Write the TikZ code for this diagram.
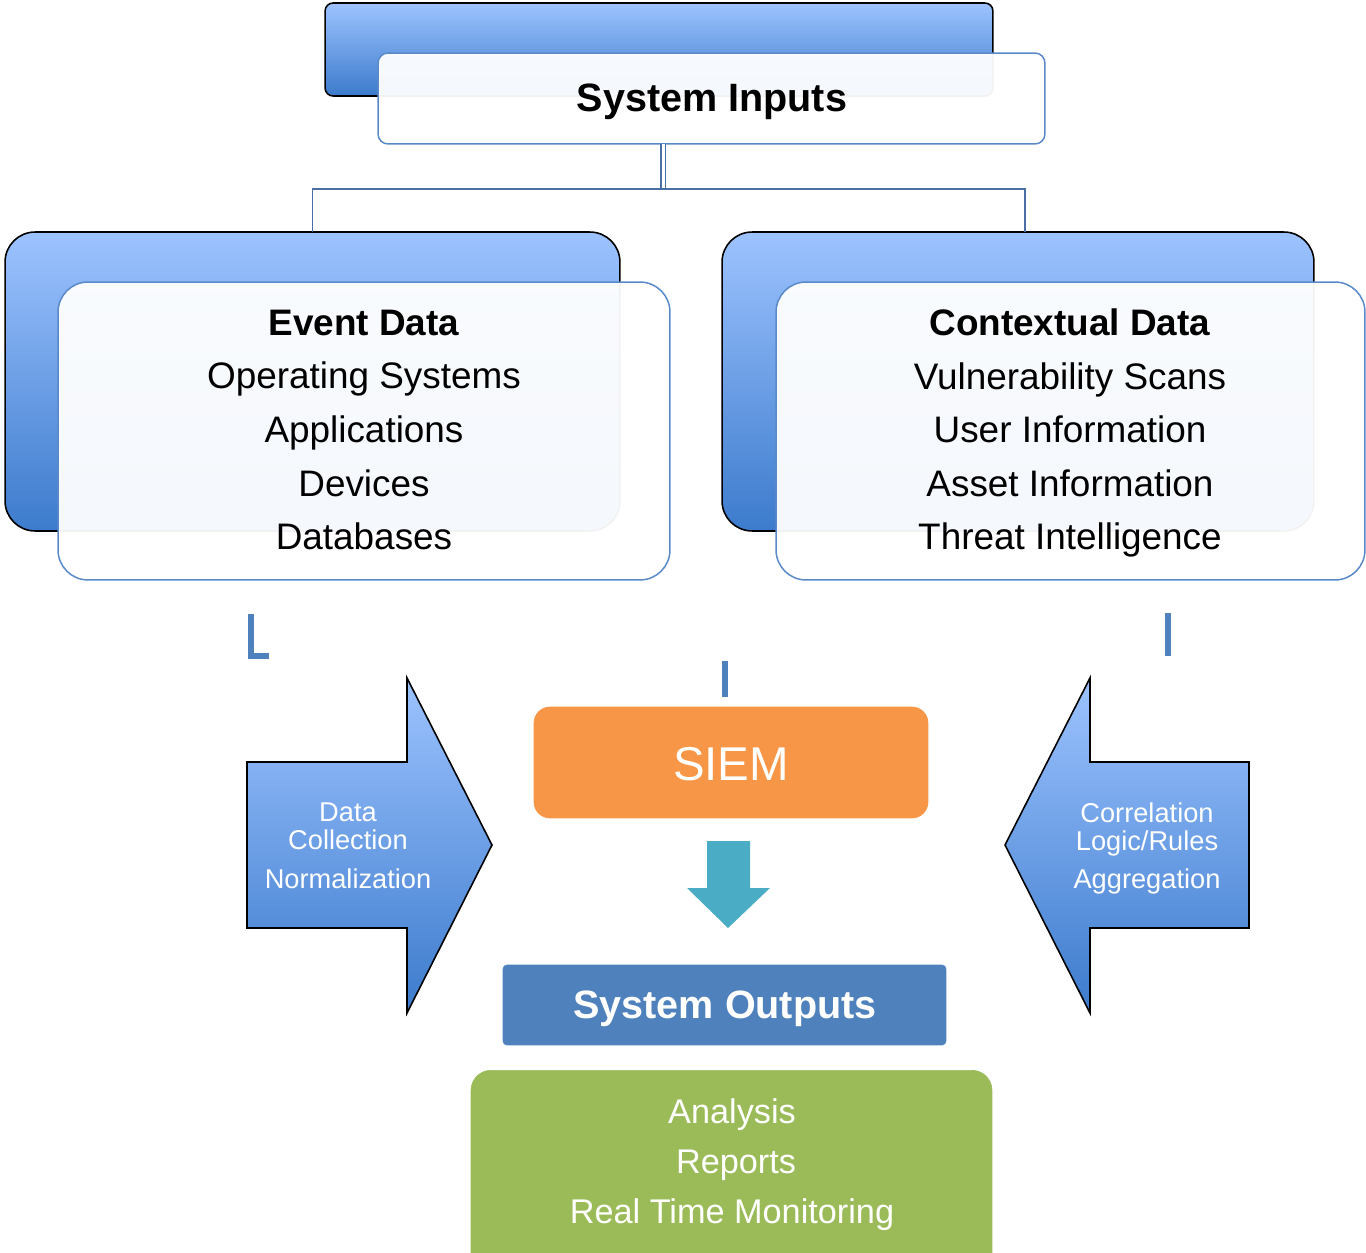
\documentclass[tikz,border=0pt]{standalone}
\usepackage{fontspec}
\setmainfont{Liberation Sans}
\definecolor{gtop}{HTML}{9DC3FF}
\definecolor{gbot}{HTML}{3C7BCC}
\definecolor{frontedge}{HTML}{5A89C8}
\definecolor{connc}{HTML}{4A6FA5}
\definecolor{fragc}{HTML}{4F81BD}
\definecolor{siemc}{HTML}{F79646}
\definecolor{tealc}{HTML}{4BACC6}
\definecolor{outc}{HTML}{4F81BD}
\definecolor{greenc}{HTML}{9BBB59}
\begin{document}
\begin{tikzpicture}[x=0.02cm, y=-0.02cm,
  backbox/.style={draw=black, line width=0.9pt, top color=gtop, bottom color=gbot, rounded corners=#1, inner sep=0pt, outer sep=0pt},
  frontbox/.style={draw=frontedge, line width=0.85pt, fill=white, fill opacity=0.95, rounded corners=#1, inner sep=0pt, outer sep=0pt},
  connline/.style={draw=connc, line width=1.1pt},
  fragln/.style={draw=fragc, line width=2.9pt},
  bigarrow/.style={draw=black, line width=0.9pt, top color=gtop, bottom color=gbot},
  bigtxt/.style={font=\fontsize{21}{30.47}\selectfont, align=center, inner sep=0pt},
  arrtxt/.style={font=\fontsize{15.5}{15.9}\selectfont, align=center, text=white, inner sep=0pt},
]
\useasboundingbox (0,0) rectangle (1366,1253);

% ---------- System Inputs ----------
\node[backbox=0.16cm, minimum width=13.36cm, minimum height=1.86cm] (sib) at (659,49.5) {};
\node[frontbox=0.2cm, minimum width=13.34cm, minimum height=1.82cm] (sif) at (711.5,98.5) {};
\node[anchor=base, inner sep=0pt, font=\fontsize{22.5}{27}\selectfont\bfseries] (sit) at (712,112) {System Inputs};

% ---------- Event Data ----------
\node[backbox=0.6cm, minimum width=12.3cm, minimum height=5.98cm] (evb) at (312.5,381.5) {};
\node[frontbox=0.6cm, minimum width=12.24cm, minimum height=5.96cm] (evf) at (364,431) {};
\node[bigtxt] (evt) at (364,430) {\textbf{Event Data}\\Operating Systems\\Applications\\Devices\\Databases};

% ---------- Contextual Data ----------
\node[backbox=0.6cm, minimum width=11.84cm, minimum height=5.98cm] (ctb) at (1018,381.5) {};
\node[frontbox=0.6cm, minimum width=11.78cm, minimum height=5.96cm] (ctf) at (1070.5,431) {};
\node[bigtxt] (ctt) at (1070,433) {\textbf{Contextual Data}\\Vulnerability Scans\\User Information\\Asset Information\\Threat Intelligence};

% ---------- connectors ----------
\coordinate (bus) at (663,189);
\draw[connline, double=white, double distance=1.7pt, line width=0.75pt] (bus |- sif.south) -- (bus);
\draw[connline] (evb.north) |- (bus) -| ([xshift=0.14cm]ctb.north);

% ---------- connector fragments ----------
\coordinate (f1a) at (251,614);
\coordinate (f1b) at (269,656);
\draw[fragln] (f1a) |- (f1b);
\coordinate (f2a) at (725,661);
\coordinate (f2b) at (725,697);
\draw[fragln] (f2a) -- (f2b);
\coordinate (f3a) at (1168,613);
\coordinate (f3b) at (1168,656);
\draw[fragln] (f3a) -- (f3b);

% ---------- side arrows ----------
\path[bigarrow] (247,762) -- (407,762) -- (407,678) -- (492,845) -- (407,1013) -- (407,928) -- (247,928) -- cycle;
\node[arrtxt] (lat) at (348,845.7) {Data\\Collection\\[6.2pt]Normalization};
\path[bigarrow] (1249,762) -- (1090,762) -- (1090,678) -- (1005,845) -- (1090,1013) -- (1090,928) -- (1249,928) -- cycle;
\node[arrtxt] (rat) at (1147,848.5) {Correlation\\Logic/Rules\\[6.2pt]Aggregation};

% ---------- SIEM ----------
\node[fill=siemc, draw=siemc, rounded corners=0.32cm, minimum width=7.88cm, minimum height=2.22cm, inner sep=0pt] (siem) at (731,762.5) {};
\node[anchor=base, inner sep=0pt, text=white, font=\fontsize{27}{32}\selectfont] (siemt) at (731,780) {SIEM};

% ---------- down arrow ----------
\fill[tealc] (707,841) -- (750,841) -- (750,888) -- (770,888) -- (728,928) -- (687,888) -- (707,888) -- cycle;

% ---------- System Outputs ----------
\node[fill=outc, draw=outc, rounded corners=0.08cm, minimum width=8.86cm, minimum height=1.6cm, inner sep=0pt] (sout) at (724.5,1005) {};
\node[anchor=base, inner sep=0pt, text=white, font=\fontsize{22.5}{27}\selectfont\bfseries] (soutt) at (725,1018) {System Outputs};

% ---------- results box ----------
\begin{scope}
\clip (0,0) rectangle (1366,1253);
\node[fill=greenc, draw=greenc, rounded corners=0.4cm, minimum width=10.42cm, minimum height=4.2cm, inner sep=0pt, anchor=north] (res) at (731.5,1070) {};
\end{scope}
\node[font=\fontsize{19.5}{28.35}\selectfont, align=center, text=white, inner sep=0pt] (rest) at (732,1164.5) {Analysis\\\hspace*{0.16cm}Reports\\Real Time Monitoring};
\end{tikzpicture}
\end{document}
